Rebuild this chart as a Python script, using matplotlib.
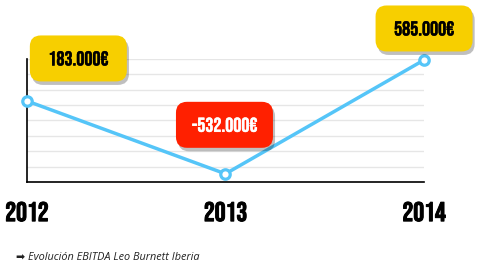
import matplotlib.pyplot as plt
import matplotlib.patheffects as pe
from matplotlib.patches import FancyBboxPatch
from matplotlib.transforms import IdentityTransform

years = ["2012", "2013", "2014"]
ebitda = [183, -532, 585]
labels = ["183.000€", "-532.000€", "585.000€"]
box_colors = ["#f7cf00", "#ff2000", "#f7cf00"]
text_colors = ["black", "white", "black"]
# label box offsets from the point, in pixels
offsets = [(51.5, 42.5), (-1, 49), (0, 31.5)]

fig = plt.figure(figsize=(4.88, 2.68), dpi=100)
ax = fig.add_axes([0.055, 0.321, 0.814, 0.459])

x = list(range(len(years)))
ax.plot(x, ebitda, color="#55c5f8", lw=2.5, zorder=3, solid_capstyle="round")
ax.plot(x, ebitda, "o", ms=6.8, mfc="white", mec="#55c5f8", mew=2.3, zorder=4, clip_on=False)

ax.set_xlim(0, 2)
ax.set_ylim(-612, 595)
ax.set_yticks([-612 + i * 1207 / 8 for i in range(9)])
ax.set_yticklabels([])
ax.tick_params(left=False, bottom=False)
ax.grid(axis="y", color="#e6e6e6", lw=1)
ax.set_axisbelow(True)
for s in ["top", "right"]:
    ax.spines[s].set_visible(False)
for s in ["left", "bottom"]:
    ax.spines[s].set_color("black")
    ax.spines[s].set_linewidth(1.2)

ax.set_xticks(x)
ax.set_xticklabels(years, fontsize=19.5, family="Bebas Neue")
ax.tick_params(axis="x", pad=11)
for lab in ax.get_xticklabels():
    lab.set_path_effects([pe.withStroke(linewidth=0.7, foreground="black")])

w, h = 97, 46
for i in range(len(years)):
    px, py = ax.transData.transform((x[i], ebitda[i]))
    cx, cy = px + offsets[i][0], py + offsets[i][1]
    box = FancyBboxPatch((cx - w / 2, cy - h / 2), w, h, boxstyle="round,pad=0,rounding_size=11",
                         fc=box_colors[i], ec="none", transform=IdentityTransform(),
                         zorder=5, clip_on=False)
    box.set_path_effects([pe.SimplePatchShadow(offset=(1.5, -2.5), shadow_rgbFace="black", alpha=0.25),
                          pe.Normal()])
    ax.add_patch(box)
    t = ax.annotate(labels[i], (x[i], ebitda[i]), xytext=offsets[i], textcoords="offset pixels",
                    ha="center", va="center_baseline", fontsize=14.5, family="Bebas Neue",
                    color=text_colors[i], zorder=6, annotation_clip=False)
    t.set_path_effects([pe.withStroke(linewidth=0.3, foreground=text_colors[i])])

ax.set_xlim(0, 2)
ax.set_ylim(-612, 595)

fig.text(0.033, 0.03, "➡ Evolución EBITDA Leo Burnett Iberia", fontsize=7.8, style="italic",
         color="#222222", family=["Open Sans", "DejaVu Sans"])

fig.savefig("out.png", dpi=100)
